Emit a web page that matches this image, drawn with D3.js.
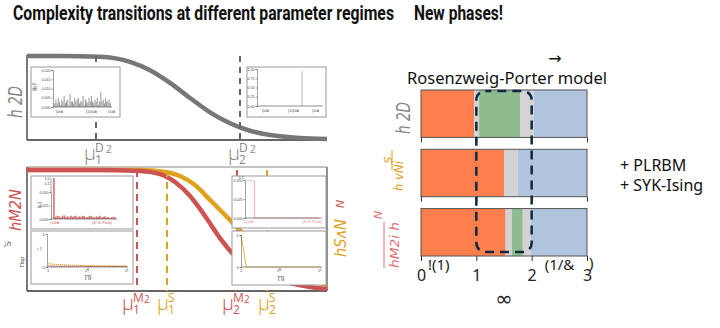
<!DOCTYPE html>
<html><head><meta charset="utf-8">
<script src="https://cdn.jsdelivr.net/npm/d3@7"></script>
<style>body{margin:0;background:#fff}svg{display:block}</style>
</head><body><svg id="c" width="720" height="328"></svg>
<script>
// ---------------- DATA ----------------
const titleText = "Complexity transitions at different parameter regimes";
const subTitleText = "New phases!";
const modelText = "Rosenzweig-Porter model";
const extraModels = ["+ PLRBM", "+ SYK-Ising"];

// top-left: D2 complexity vs log parameter
const muD2 = [-3, -2.34, -1.54, -0.94, -0.54, -0.14, 0.26, 0.66, 1.06, 1.46, 1.86, 2.46, 3];
const d2Values = [1.0, 1.0, 0.99, 0.93, 0.83, 0.68, 0.50, 0.33, 0.20, 0.11, 0.06, 0.024, 0.012];
const d2Crit = [-1.62, 1.26];

// bottom-left: M2 (red) and S (yellow)
const muM2 = [-3, -1.54, -0.74, -0.34, -0.04, 0.26, 0.56, 0.86, 1.16, 1.46, 1.86, 2.26, 2.66, 3];
const m2Values = [0.984, 0.984, 0.975, 0.95, 0.885, 0.77, 0.607, 0.426, 0.279, 0.18, 0.107, 0.057, 0.025, 0.008];
const muS = [-3, -0.74, -0.24, 0.06, 0.36, 0.66, 0.96, 1.26, 1.66, 2.06, 2.46, 3];
const sValues = [0.984, 0.984, 0.967, 0.934, 0.86, 0.738, 0.615, 0.49, 0.328, 0.205, 0.115, 0.04];
const m2Crit = [-0.8, 1.2];
const sCrit = [-0.2, 1.8];

// inset histograms
const histA = [0.002,0.004,0.002,0.005,0.003,0.001,0.004,0.003,0.006,0.002,0.003,0.004,0.001,0.007,0.003,0.003,0.002,0.005,0.003,0.004,0.005,0.002,0.003,0.003,0.006,0.001,0.004,0.003,0.002,0.005,0.003,0.006,0.003,0.002,0.004,0.003,0.005,0.001,0.003,0.008,0.003,0.004,0.002,0.005,0.003,0.003,0.004,0.002];
const histATicks = [0, 0.005, 0.010, 0.015, 0.020];
const spikeB = {index: 44, value: 0.95, n: 64};
const histBTicks = [0, 0.25, 0.5, 0.75, 1.0];
const basisLabels = ["|0i⊗", "|1i|0i⊗", "|1i⊗"];
const histC = [1.0,0.004,0.006,0.005,0.003,0.005,0.007,0.004,0.005,0.003,0.006,0.004,0.005,0.006,0.003,0.005,0.004,0.006,0.005,0.003,0.004,0.006,0.005,0.004,0.003,0.005,0.004,0.006,0.003,0.004,0.005,0.003,0.004,0.002,0.003,0.004,0.003];
const histCTicks = [0, 0.025, 0.050];
const pauliD = [0.049,0.049,0.049,0,0,0,0,0,0,0,0,0,0,0,0,0,0,0,0,0,0,0,0,0,0,0,0,0,0,0];
const partS = [0.10,0.085,0.075,0.066,0.060,0.055,0.050,0.046,0.043,0.040,0.038,0.036,0.034,0.033,0.031,0.030];
const partM = [0.03,0.028,0.026,0.025,0.024,0.023,0.022,0.021,0.02,0.02,0.019,0.019,0.018,0.018,0.017,0.017];
const partS2 = [1.0,0.0,0.0,0.0,0.0,0.0,0.0,0.0,0.0,0.0,0.0,0.0,0.0,0.0,0.0,0.0];
const partTickLabels = ["1", "2ᴺ", "2ᴸ"];

// right: phase diagram
const phaseRows = ["D2", "S", "M2"];
const phaseSegments = [
  [[0, 0.96, "ergodic"], [0.96, 1.05, "cross"], [1.05, 1.79, "fractal"], [1.79, 2.04, "cross"], [2.04, 3, "local"]],
  [[0, 1.50, "ergodic"], [1.50, 1.75, "cross"], [1.75, 3, "local"]],
  [[0, 1.53, "ergodic"], [1.53, 1.64, "cross"], [1.64, 1.84, "fractal"], [1.84, 1.98, "cross"], [1.98, 3, "local"]]
];
const gammaTicks = [0, 1, 2, 3];
const gammaAnnot = ["!(1)", "(1/&", ")"];
const fractalWindow = [1, 2];

// ---------------- DRAW ----------------
const svg = d3.select("#c");
const phaseColor = {ergodic: "#fe7f4e", cross: "#d3d3d3", fractal: "#8fbc8e", local: "#b0c4dd"};
const RED = "#cd5353", YEL = "#dea21c", GRY = "#777";

svg.append("text").attr("x", 13).attr("y", 20).attr("textLength", 381).attr("lengthAdjust", "spacingAndGlyphs")
  .style("font", "bold 19.5px Roboto, sans-serif").attr("fill", "#111").text(titleText);
svg.append("text").attr("x", 414).attr("y", 20).attr("textLength", 89).attr("lengthAdjust", "spacingAndGlyphs")
  .style("font", "bold 19.5px Roboto, sans-serif").attr("fill", "#111").text(subTitleText);

// scales left
const x = d3.scaleLinear().domain([-3, 3]).range([27, 327]);
const yTop = d3.scaleLinear().domain([0, 1]).range([140, 56]);
const yBot = d3.scaleLinear().domain([0, 1]).range([290, 168]);

function rotText(cx, cy, txt, opts) {
  const t = svg.append("text").attr("transform", `translate(${cx},${cy}) rotate(-90)`)
    .attr("text-anchor", "middle").attr("dominant-baseline", "central")
    .style("font", opts.font).attr("fill", opts.fill).text(txt);
  if (opts.len) t.attr("textLength", opts.len).attr("lengthAdjust", "spacingAndGlyphs");
  return t;
}

// top panel frame
const gT = svg.append("g");
gT.append("line").attr("x1", 27).attr("x2", 27).attr("y1", 55).attr("y2", 140).attr("stroke", "#333").attr("stroke-width", 1.3);
gT.append("line").attr("x1", 27).attr("x2", 327).attr("y1", 140).attr("y2", 140).attr("stroke", "#333").attr("stroke-width", 1.3);
gT.append("path").datum(muD2.map((m, i) => [m, d2Values[i]]))
  .attr("d", d3.line().x(d => x(d[0])).y(d => yTop(d[1])).curve(d3.curveMonotoneX))
  .attr("fill", "none").attr("stroke", GRY).attr("stroke-width", 4.5);

// inset helper
function insetBox(bx, by, bw, bh) {
  const g = svg.append("g");
  g.append("rect").attr("x", bx).attr("y", by).attr("width", bw).attr("height", bh)
    .attr("fill", "#fff").attr("stroke", "#999").attr("stroke-width", 1);
  return g;
}
function smallAxisLeft(g, scale, xPos, ticks, fmt, color) {
  const a = g.append("g").attr("transform", `translate(${xPos},0)`)
    .call(d3.axisLeft(scale).tickValues(ticks).tickFormat(fmt).tickSize(1.5).tickPadding(1));
  a.selectAll("text").style("font", "3.6px sans-serif").attr("fill", color || "#444");
  a.selectAll("line,path").attr("stroke", "#444").attr("stroke-width", 0.5);
  return a;
}
function smallAxisBottom(g, x1, x2, yPos) {
  g.append("line").attr("x1", x1).attr("x2", x2).attr("y1", yPos).attr("y2", yPos).attr("stroke", "#444").attr("stroke-width", 0.6);
}

// top-left inset
{
  const g = insetBox(31, 67, 89, 50);
  const ys = d3.scaleLinear().domain([0, 0.02]).range([107, 70]);
  const xs = d3.scaleBand().domain(d3.range(histA.length)).range([54, 111]).padding(0.15);
  g.selectAll("rect.b").data(histA).join("rect").attr("class", "b")
    .attr("x", (d, i) => xs(i)).attr("width", xs.bandwidth()).attr("y", d => ys(d)).attr("height", d => ys(0) - ys(d)).attr("fill", "#9a9a9a");
  smallAxisLeft(g, ys, 53, histATicks, d3.format(".3f"));
  smallAxisBottom(g, 53, 112, 107);
  const lx = [56, 86, 108];
  basisLabels.forEach((t, i) => g.append("text").attr("x", lx[i]).attr("y", 113).style("font", "4px sans-serif").attr("fill", "#555").text(t));
  g.append("text").attr("transform", "translate(36,87) rotate(-90)").attr("text-anchor", "middle").style("font", "5px sans-serif").attr("fill", "#555").text("|ψⱼ|²");
}
// top-right inset
{
  const g = insetBox(247, 67, 79, 50);
  const ys = d3.scaleLinear().domain([0, 1]).range([106, 69]);
  const xs = d3.scaleLinear().domain([0, spikeB.n]).range([258, 322]);
  g.append("line").attr("x1", xs(spikeB.index)).attr("x2", xs(spikeB.index)).attr("y1", ys(0)).attr("y2", ys(spikeB.value)).attr("stroke", "#aaa").attr("stroke-width", 0.8);
  smallAxisLeft(g, ys, 257, histBTicks, d3.format(".2f"));
  smallAxisBottom(g, 257, 323, 106);
  const lx = [262, 288, 312];
  basisLabels.forEach((t, i) => g.append("text").attr("x", lx[i]).attr("y", 112).style("font", "4px sans-serif").attr("fill", "#555").text(t));
}
// dashed criticals top
d2Crit.forEach(c => gT.append("line").attr("x1", x(c)).attr("x2", x(c)).attr("y1", 56).attr("y2", 140)
  .attr("stroke", "#666").attr("stroke-width", 2).attr("stroke-dasharray", "6,5"));

// mu labels
function muLabel(px, py, sup, sup2, sub, color) {
  svg.append("text").attr("x", px).attr("y", py).style("font", "300 20px 'Open Sans', sans-serif").attr("fill", color).text("μ");
  svg.append("text").attr("x", px + 11).attr("y", py - 8).style("font", "12px 'Open Sans', sans-serif").attr("fill", color).text(sup);
  if (sup2) svg.append("text").attr("x", px + 22).attr("y", py - 7).style("font", "10px 'Open Sans', sans-serif").attr("fill", color).text(sup2);
  svg.append("text").attr("x", px + 11).attr("y", py + 4).style("font", "12px 'Open Sans', sans-serif").attr("fill", color).text(sub);
}
muLabel(84, 160, "D", "2", "1", "#888");
muLabel(228, 160, "D", "2", "2", "#888");

rotText(15, 102, "h 2D", {font: "italic 20px 'DejaVu Sans', sans-serif", fill: "#888", len: 32});

// bottom panel
const gB = svg.append("g");
gB.append("line").attr("x1", 27).attr("x2", 327).attr("y1", 167).attr("y2", 167).attr("stroke", "#888").attr("stroke-width", 1);
gB.append("line").attr("x1", 27).attr("x2", 27).attr("y1", 167).attr("y2", 291).attr("stroke", "#333").attr("stroke-width", 1.3);
gB.append("line").attr("x1", 327).attr("x2", 327).attr("y1", 167).attr("y2", 291).attr("stroke", "#555").attr("stroke-width", 1.3);
gB.append("line").attr("x1", 27).attr("x2", 327).attr("y1", 291).attr("y2", 291).attr("stroke", "#333").attr("stroke-width", 1.3);
const lineB = d3.line().x(d => x(d[0])).y(d => yBot(d[1])).curve(d3.curveMonotoneX);
gB.append("path").datum(muS.map((m, i) => [m, sValues[i]])).attr("d", lineB).attr("fill", "none").attr("stroke", YEL).attr("stroke-width", 4.5);
gB.append("path").datum(muM2.map((m, i) => [m, m2Values[i]])).attr("d", lineB).attr("fill", "none").attr("stroke", RED).attr("stroke-width", 4.5);
m2Crit.forEach(c => gB.append("line").attr("x1", x(c)).attr("x2", x(c)).attr("y1", 170).attr("y2", 291).attr("stroke", RED).attr("stroke-width", 2).attr("stroke-dasharray", "7,5"));
sCrit.forEach(c => gB.append("line").attr("x1", x(c)).attr("x2", x(c)).attr("y1", 170).attr("y2", 291).attr("stroke", YEL).attr("stroke-width", 2).attr("stroke-dasharray", "7,5"));

// bottom-left-top inset
{
  const g = insetBox(31, 176, 102, 53);
  const ys = d3.scaleLinear().domain([0, 0.05]).range([219, 192]);
  const xs = d3.scaleBand().domain(d3.range(histC.length)).range([53, 116]).padding(0.1);
  g.selectAll("rect.b").data(histC).join("rect").attr("class", "b")
    .attr("x", (d, i) => xs(i)).attr("width", xs.bandwidth())
    .attr("y", d => d > 0.05 ? 178 : ys(d)).attr("height", d => ys(0) - (d > 0.05 ? 178 : ys(d))).attr("fill", RED).attr("opacity", 0.85);
  smallAxisLeft(g, ys, 51, histCTicks, d3.format(".3f"));
  g.append("line").attr("x1", 51).attr("x2", 51).attr("y1", 178).attr("y2", 192).attr("stroke", "#444").attr("stroke-width", 0.5);
  g.append("text").attr("x", 49.5).attr("y", 180).attr("text-anchor", "end").style("font", "3.6px sans-serif").attr("fill", "#444").text("1.0");
  g.append("text").attr("x", 49.5).attr("y", 185).attr("text-anchor", "end").style("font", "3.6px sans-serif").attr("fill", "#444").text("0.1");
  smallAxisBottom(g, 51, 117, 219);
  g.append("text").attr("x", 50).attr("y", 224).style("font", "3.8px sans-serif").attr("fill", RED).text("|+0i⊗ⁿ");
  g.append("text").attr("x", 112).attr("y", 224).attr("text-anchor", "end").style("font", "3.8px sans-serif").attr("fill", RED).text("(4ⁿ th Pauli)");
  g.append("text").attr("transform", "translate(41,205) rotate(-90)").attr("text-anchor", "middle").style("font", "5px sans-serif").attr("fill", "#555").text("|cᵢ|");
}
// bottom-left-bottom inset
{
  const g = insetBox(31, 231, 102, 53);
  const ys = d3.scaleLinear().domain([0, 1]).range([267, 234]);
  const xs = d3.scaleLinear().domain([0, partS.length - 1]).range([48, 127]);
  g.append("path").datum(partM).attr("d", d3.line().x((d, i) => xs(i)).y(d => ys(d))).attr("fill", "none").attr("stroke", RED).attr("stroke-width", 0.8);
  g.append("path").datum(partS).attr("d", d3.line().x((d, i) => xs(i)).y(d => ys(d))).attr("fill", "none").attr("stroke", YEL).attr("stroke-width", 1).attr("stroke-dasharray", "1.2,0.8");
  smallAxisLeft(g, ys, 47, [0, 1], d3.format("d"));
  smallAxisBottom(g, 47, 128, 267);
  const lx = [48, 87, 127];
  partTickLabels.forEach((t, i) => g.append("text").attr("x", lx[i]).attr("y", 272).attr("text-anchor", "middle").style("font", "4px sans-serif").attr("fill", "#444").text(t));
  g.append("text").attr("x", 88).attr("y", 280).attr("text-anchor", "middle").style("font", "7px sans-serif").attr("fill", "#555").text("Πi");
  g.append("text").attr("x", 37).attr("y", 250).style("font", "4px sans-serif").attr("fill", "#555").text("r 2");
  g.append("text").attr("transform", "translate(24,262) rotate(-90)").attr("text-anchor", "middle").style("font", "6px sans-serif").attr("fill", "#444").text("Πsp");
}
// bottom-right-top inset
{
  const g = insetBox(232, 176, 94, 52);
  const ys = d3.scaleLinear().domain([0, 0.05]).range([218, 180]);
  const xs = d3.scaleLinear().domain([0, pauliD.length]).range([247, 322]);
  g.append("path").datum(pauliD).attr("d", d3.line().x((d, i) => xs(i)).y(d => ys(d)).curve(d3.curveStepAfter))
    .attr("fill", "none").attr("stroke", "#f0a8a8").attr("stroke-width", 0.9);
  smallAxisLeft(g, ys, 245, histCTicks, d3.format(".3f"));
  g.append("text").attr("x", 243.5).attr("y", 179).attr("text-anchor", "end").style("font", "3.6px sans-serif").attr("fill", "#444").text("0.1");
  smallAxisBottom(g, 245, 322, 218);
  g.append("text").attr("x", 244).attr("y", 223).style("font", "3.8px sans-serif").attr("fill", "#e88").text("|+0i⊗ⁿ");
  g.append("text").attr("x", 322).attr("y", 223).attr("text-anchor", "end").style("font", "3.8px sans-serif").attr("fill", "#e88").text("(4ⁿ th Pauli)");
}
// bottom-right-bottom inset
{
  const g = insetBox(232, 231, 94, 54);
  const ys = d3.scaleLinear().domain([0, 1]).range([267, 235]);
  const xs = d3.scaleLinear().domain([0, partS2.length - 1]).range([241, 321]);
  g.append("path").datum(partS2.slice(0, 2)).attr("d", d3.line().x((d, i) => xs(i)).y(d => ys(d))).attr("fill", "none").attr("stroke", YEL).attr("stroke-width", 0.8);
  g.append("path").datum(partS2.slice(1)).attr("d", d3.line().x((d, i) => xs(i + 1)).y(d => ys(d))).attr("fill", "none").attr("stroke", YEL).attr("stroke-width", 1).attr("stroke-dasharray", "1.2,0.8");
  smallAxisLeft(g, ys, 241, [0, 1], d3.format("d"));
  smallAxisBottom(g, 241, 322, 267);
  const lx = [241, 279, 320];
  partTickLabels.forEach((t, i) => g.append("text").attr("x", lx[i]).attr("y", 272).attr("text-anchor", "middle").style("font", "4px sans-serif").attr("fill", "#444").text(t));
  g.append("text").attr("x", 281).attr("y", 281).attr("text-anchor", "middle").style("font", "7px sans-serif").attr("fill", "#555").text("Πi");
}

muLabel(122, 310, "M", "2", "1", RED);
muLabel(157, 310, "S", null, "1", YEL);
muLabel(222, 310, "M", "2", "2", RED);
muLabel(258, 310, "S", null, "2", YEL);

rotText(15, 210, "hM2N", {font: "italic 16px 'DejaVu Sans', sans-serif", fill: RED, len: 42});
svg.append("text").attr("x", 4).attr("y", 246).style("font", "italic 8px sans-serif").attr("fill", "#555").text("¡h");
rotText(341, 238, "hSʌN", {font: "italic 15px 'DejaVu Sans', sans-serif", fill: YEL, len: 38});
rotText(340, 204, "N", {font: "italic 11px 'DejaVu Sans', sans-serif", fill: RED});

// ---------------- right: phase diagram ----------------
const gx = d3.scaleLinear().domain([0, 3]).range([421, 587]);
const gy = d3.scaleBand().domain(phaseRows).range([90, 256]).paddingInner(0.2);
const gR = svg.append("g");
phaseRows.forEach((r, ri) => {
  const row = gR.append("g");
  row.selectAll("rect").data(phaseSegments[ri]).join("rect")
    .attr("x", d => gx(d[0])).attr("width", d => gx(d[1]) - gx(d[0]))
    .attr("y", gy(r)).attr("height", gy.bandwidth()).attr("fill", d => phaseColor[d[2]]);
  row.append("rect").attr("x", gx(0)).attr("y", gy(r)).attr("width", gx(3) - gx(0)).attr("height", gy.bandwidth())
    .attr("fill", "none").attr("stroke", "#555").attr("stroke-width", 1);
  const ax = row.append("g").attr("transform", `translate(0,${gy(r) + gy.bandwidth()})`)
    .call(d3.axisBottom(gx).tickValues(gammaTicks).tickSize(5).tickFormat(ri === 2 ? d3.format("d") : ""));
  ax.select(".domain").remove();
  ax.selectAll("line").attr("stroke", "#333");
  ax.selectAll("text").style("font", "16px 'Noto Sans', sans-serif").attr("fill", "#222").attr("dy", "1.05em");
});
// dashed fractal window
gR.append("rect").attr("x", gx(fractalWindow[0])).attr("y", 91).attr("width", gx(fractalWindow[1]) - gx(fractalWindow[0])).attr("height", 161)
  .attr("rx", 9).attr("fill", "none").attr("stroke", "#0e2a40").attr("stroke-width", 2.5).attr("stroke-dasharray", "9,6").attr("stroke-dashoffset", 3);

svg.append("text").attr("x", gx(0) + 7).attr("y", 270).style("font", "15px 'Noto Sans', sans-serif").attr("fill", "#222").text(gammaAnnot[0]);
svg.append("text").attr("x", gx(2) + 13).attr("y", 270).style("font", "15px 'Noto Sans', sans-serif").attr("fill", "#222").text(gammaAnnot[1]);
svg.append("text").attr("x", gx(3) + 2).attr("y", 268).style("font", "15px 'Noto Sans', sans-serif").attr("fill", "#222").text(gammaAnnot[2]);
svg.append("text").attr("x", (gx(1) + gx(2)) / 2).attr("y", 306).attr("text-anchor", "middle").style("font", "21px 'DejaVu Sans', sans-serif").attr("fill", "#222").text("∞");

svg.append("text").attr("x", 407).attr("y", 84).attr("textLength", 200).attr("lengthAdjust", "spacingAndGlyphs")
  .style("font", "16.5px 'Noto Sans', sans-serif").attr("fill", "#111").text(modelText);
svg.append("text").attr("x", 555).attr("y", 64).attr("text-anchor", "middle").style("font", "16px 'DejaVu Sans', sans-serif").attr("fill", "#111").text("→");
extraModels.forEach((t, i) => svg.append("text").attr("x", 620).attr("y", 171 + i * 20).style("font", "16px 'Noto Sans', sans-serif").attr("fill", "#111").text(t));

rotText(403, 118, "h 2D", {font: "italic 19px 'DejaVu Sans', sans-serif", fill: "#888", len: 32});
rotText(398, 176, "h vNi", {font: "italic 13px 'DejaVu Sans', sans-serif", fill: YEL, len: 30});
rotText(388, 160, "S", {font: "italic 11px 'DejaVu Sans', sans-serif", fill: YEL});
svg.append("line").attr("x1", 392).attr("x2", 392).attr("y1", 150).attr("y2", 170).attr("stroke", YEL).attr("stroke-width", 1);
rotText(394, 245, "hM2i h", {font: "italic 13px 'DejaVu Sans', sans-serif", fill: "#e07070", len: 46});
rotText(378, 215, "N", {font: "italic 11px 'DejaVu Sans', sans-serif", fill: "#e07070"});
svg.append("line").attr("x1", 384).attr("x2", 384).attr("y1", 222).attr("y2", 268).attr("stroke", "#e07070").attr("stroke-width", 1);
</script></body></html>
